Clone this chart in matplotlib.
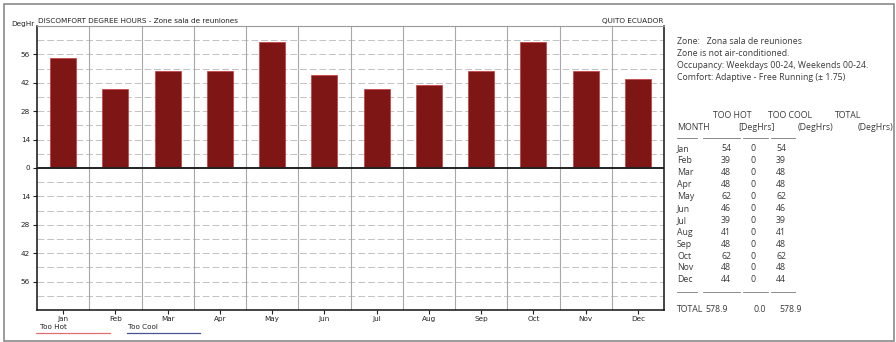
import matplotlib
matplotlib.use("Agg")
import matplotlib.pyplot as plt
from matplotlib.patches import Rectangle
from matplotlib.lines import Line2D
import numpy as np

months = ["Jan", "Feb", "Mar", "Apr", "May", "Jun", "Jul", "Aug", "Sep", "Oct", "Nov", "Dec"]
too_hot = [54, 39, 48, 48, 62, 46, 39, 41, 48, 62, 48, 44]
too_cool = [0, 0, 0, 0, 0, 0, 0, 0, 0, 0, 0, 0]
total_hot = 578.9
total_cool = 0.0
y_ticks = [-56, -42, -28, -14, 0, 14, 28, 42, 56]

title = "DISCOMFORT DEGREE HOURS - Zone sala de reuniones"
location = "QUITO ECUADOR"
info_lines = [
    "Zone:   Zona sala de reuniones",
    "Zone is not air-conditioned.",
    "Occupancy: Weekdays 00-24, Weekends 00-24.",
    "Comfort: Adaptive - Free Running (\u00b1 1.75)",
]

W, H = 896, 342
fig = plt.figure(figsize=(W / 100, H / 100), dpi=100)
fig.patch.set_facecolor("white")


def fx(x):
    return x / W


def fy(y):
    return 1 - y / H


# outer frame
fig.add_artist(Rectangle((fx(4), fy(341)), fx(894) - fx(4), fy(4) - fy(341),
                         transform=fig.transFigure, fill=False,
                         edgecolor="#8a8a8a", lw=1.2))

ax = fig.add_axes([fx(37), fy(310), fx(664) - fx(37), fy(26) - fy(310)])
x = np.arange(len(months))
ax.bar(x, too_hot, width=0.5, color="#7e1616", edgecolor="#c83a3a", lw=0.5, zorder=3)
ax.bar(x, [-v for v in too_cool], width=0.5, color="#3b4a8a", zorder=3)
ax.set_xlim(-0.5, 11.5)
ax.set_ylim(-70, 70)

# grid
for yv in range(-63, 70, 7):
    if yv == 0:
        continue
    ax.axhline(yv, color="#c2c2c2", lw=0.7, ls=(0, (7, 3)), zorder=1)
for b in np.arange(0.5, 11.5, 1):
    ax.axvline(b, color="#a8a8a8", lw=0.8, zorder=1)
ax.axhline(0, color="#222222", lw=1.4, zorder=4)

ax.set_yticks(y_ticks)
ax.set_yticklabels([str(abs(v)) for v in y_ticks])
ax.set_xticks(x)
ax.set_xticklabels(months)
ax.tick_params(axis="both", labelsize=5.2, colors="#222222", length=3, width=0.8, pad=2)
ax.tick_params(axis="x", length=3, pad=1)
for s in ["left", "bottom", "right"]:
    ax.spines[s].set_color("#111111")
    ax.spines[s].set_linewidth(1.1)
ax.spines["top"].set_color("#999999")
ax.spines["top"].set_linewidth(0.8)

fig.text(fx(11), fy(24), "DegHr", fontsize=5.2, color="#222222", va="center", ha="left")
fig.text(fx(38), fy(21), title, fontsize=5.2, color="#222222", va="center", ha="left")
fig.text(fx(663), fy(21), location, fontsize=5.2, color="#222222", va="center", ha="right")

# legend
fig.text(fx(40), fy(327), "Too Hot", fontsize=5.2, color="#222222", va="center")
fig.add_artist(Line2D([fx(36), fx(110)], [fy(333), fy(333)], transform=fig.transFigure,
                      color="#e07070", lw=0.9))
fig.text(fx(128), fy(327), "Too Cool", fontsize=5.2, color="#222222", va="center")
fig.add_artist(Line2D([fx(127), fx(200)], [fy(333), fy(333)], transform=fig.transFigure,
                      color="#4a5590", lw=0.9))

# side panel
tf = dict(fontsize=6.3, color="#3a3a3a", family="Open Sans", va="center")
for i, line in enumerate(info_lines):
    fig.text(fx(677), fy(42 + i * 12), line, ha="left", **tf)

fig.text(fx(713), fy(115), "TOO HOT", ha="left", **tf)
fig.text(fx(768), fy(115), "TOO COOL", ha="left", **tf)
fig.text(fx(835), fy(115), "TOTAL", ha="left", **tf)
fig.text(fx(677), fy(127), "MONTH", ha="left", **tf)
fig.text(fx(738), fy(127), "[DegHrs]", ha="left", **tf)
fig.text(fx(798), fy(127), "(DegHrs)", ha="left", **tf)
fig.text(fx(858), fy(127), "(DegHrs)", ha="left", **tf)

for x0, x1 in [(677, 697), (703, 740), (743, 768), (771, 795)]:
    fig.add_artist(Line2D([fx(x0), fx(x1)], [fy(138), fy(138)], transform=fig.transFigure,
                          color="#777777", lw=0.6))

for i, m in enumerate(months):
    yy = fy(149 + i * 11.9)
    fig.text(fx(677), yy, m, ha="left", **tf)
    fig.text(fx(731), yy, f"{too_hot[i]:d}", ha="right", **tf)
    fig.text(fx(756), yy, f"{too_cool[i]:d}", ha="right", **tf)
    fig.text(fx(786), yy, f"{too_hot[i] + too_cool[i]:d}", ha="right", **tf)

for x0, x1 in [(677, 697), (703, 740), (743, 768), (771, 795)]:
    fig.add_artist(Line2D([fx(x0), fx(x1)], [fy(292), fy(292)], transform=fig.transFigure,
                          color="#777777", lw=0.6))

fig.text(fx(677), fy(310), "TOTAL", ha="left", **tf)
fig.text(fx(705), fy(310), f"{total_hot:.1f}", ha="left", **tf)
fig.text(fx(766), fy(310), f"{total_cool:.1f}", ha="right", **tf)
fig.text(fx(779), fy(310), f"{total_hot + total_cool:.1f}", ha="left", **tf)

fig.savefig("out.png", dpi=100, facecolor="white")
